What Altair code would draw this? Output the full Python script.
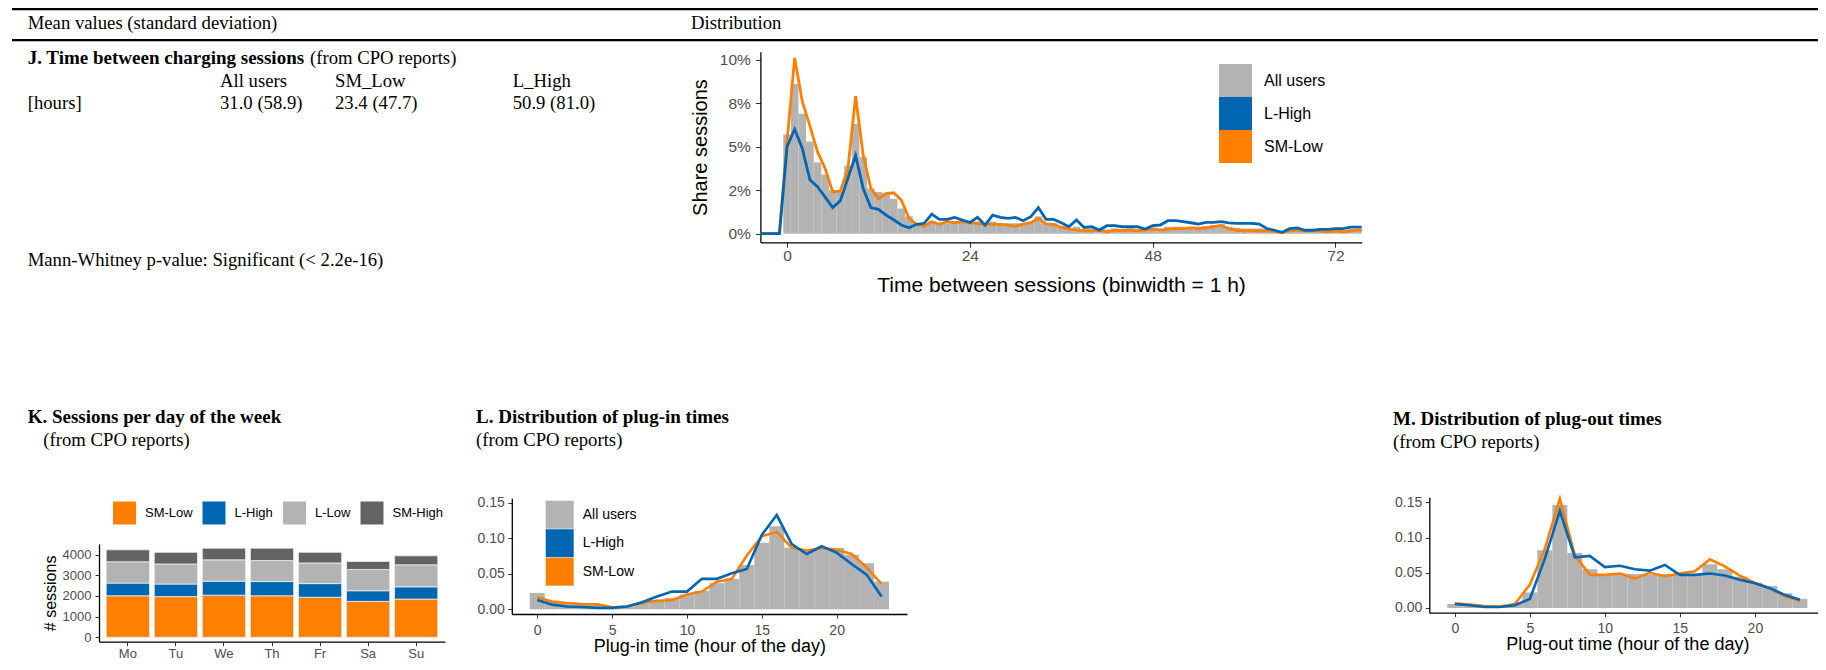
import altair as alt
import pandas as pd

# ---------------- data ----------------
J_HOURS = list(range(-4, 77))
J_SM_LOW = [0, 0, 0, 0,
            5.3, 10.1, 7.6, 6.2, 4.7, 3.75, 2.4, 2.45, 3.75, 7.9, 4.5, 2.6, 2.0, 2.3, 2.35, 1.93,
            0.9, 0.54, 0.44, 0.69, 0.54, 0.69, 0.63, 0.69, 0.63, 0.6, 0.54, 0.54, 0.54, 0.5, 0.44,
            0.55, 0.63, 0.88, 0.56, 0.54, 0.36, 0.27, 0.21, 0.17, 0.17, 0.21, 0.08, 0.21, 0.17, 0.21,
            0.17, 0.21, 0.27, 0.21, 0.25, 0.3, 0.29, 0.34, 0.3, 0.34, 0.4, 0.48, 0.29, 0.2, 0.17,
            0.17, 0.17, 0.17, 0.13, 0.06, 0.17, 0.21, 0.17, 0.17, 0.17, 0.11, 0.17, 0.11, 0.17, 0.21, 0.21]
J_L_HIGH = [0, 0, 0, 0,
            5.0, 6.0, 4.9, 3.1, 2.7, 2.1, 1.5, 1.9, 3.2, 4.5, 2.6, 1.5, 1.4, 1.07, 0.8, 0.5,
            0.34, 0.54, 0.6, 1.13, 0.82, 0.82, 0.94, 0.79, 0.65, 0.94, 0.5, 1.07, 0.94, 0.88, 0.94,
            0.75, 0.98, 1.5, 0.82, 0.82, 0.63, 0.4, 0.79, 0.36, 0.4, 0.21, 0.46, 0.46, 0.4, 0.4,
            0.4, 0.27, 0.46, 0.5, 0.75, 0.75, 0.69, 0.63, 0.55, 0.65, 0.65, 0.69, 0.62, 0.6, 0.6,
            0.6, 0.55, 0.3, 0.2, 0.08, 0.29, 0.34, 0.2, 0.2, 0.25, 0.25, 0.29, 0.29, 0.38, 0.38, 0.38]
J_BAR_HOURS = list(range(0, 76))
J_ALL = [5.7, 8.6, 6.9, 5.3, 4.1, 3.4, 2.5, 2.4, 3.9, 6.3, 4.4, 2.6, 2.4, 2.35, 2.0, 1.45,
         1.0, 0.6, 0.5, 0.7, 0.6, 0.6, 0.7, 0.7, 0.6, 0.7, 0.5, 0.7, 0.6, 0.6, 0.6, 0.6, 0.7, 1.0,
         0.6, 0.6, 0.45, 0.3, 0.4, 0.25, 0.25, 0.2, 0.25, 0.3, 0.25, 0.3, 0.25, 0.25, 0.35, 0.3,
         0.4, 0.4, 0.4, 0.4, 0.4, 0.45, 0.5, 0.55, 0.4, 0.35, 0.3, 0.3, 0.3, 0.25, 0.15, 0.1,
         0.2, 0.25, 0.2, 0.2, 0.2, 0.2, 0.2, 0.2, 0.25, 0.25]
J_X_TICKS = [0, 24, 48, 72]
J_Y_TICKS = [0, 0.025, 0.05, 0.075, 0.10]
J_Y_LABELS = ["0%", "2%", "5%", "8%", "10%"]

DAYS = ["Mo", "Tu", "We", "Th", "Fr", "Sa", "Su"]
K_GROUPS = ["SM-Low", "L-High", "L-Low", "SM-High"]
K_SM_LOW = [2010, 1970, 2040, 2010, 1940, 1740, 1850]
K_L_HIGH = [615, 610, 680, 690, 660, 515, 595]
K_L_LOW = [1030, 970, 1030, 1015, 1000, 1030, 1065]
K_SM_HIGH = [580, 565, 565, 600, 515, 390, 435]
K_Y_TICKS = [0, 1000, 2000, 3000, 4000]

HOURS = list(range(24))
L_ALL = [0.023, 0.012, 0.009, 0.0075, 0.0075, 0.004, 0.004, 0.0085, 0.013, 0.016, 0.021, 0.026,
         0.037, 0.043, 0.0625, 0.094, 0.117, 0.087, 0.083, 0.0865, 0.0865, 0.077, 0.065, 0.039]
L_L_HIGH = [0.013, 0.0066, 0.004, 0.0033, 0.002, 0.002, 0.004, 0.0099, 0.018, 0.025, 0.025, 0.043,
            0.043, 0.051, 0.057, 0.105, 0.133, 0.092, 0.078, 0.089, 0.080, 0.064, 0.049, 0.018]
L_SM_LOW = [0.017, 0.011, 0.009, 0.0075, 0.007, 0.003, 0.004, 0.009, 0.012, 0.0127, 0.021, 0.025,
            0.039, 0.043, 0.076, 0.103, 0.109, 0.087, 0.083, 0.0865, 0.084, 0.078, 0.059, 0.036]
M_ALL = [0.0057, 0.0047, 0.003, 0.002, 0.0057, 0.022, 0.082, 0.146, 0.078, 0.055, 0.048, 0.049,
         0.048, 0.047, 0.048, 0.047, 0.048, 0.062, 0.055, 0.0445, 0.036, 0.031, 0.021, 0.013]
M_L_HIGH = [0.0057, 0.0038, 0.0014, 0.0014, 0.0038, 0.0128, 0.07, 0.138, 0.072, 0.074, 0.058, 0.060,
            0.055, 0.053, 0.061, 0.047, 0.047, 0.049, 0.046, 0.040, 0.035, 0.028, 0.0185, 0.0118]
M_SM_LOW = [0.0066, 0.0047, 0.0028, 0.0019, 0.0057, 0.033, 0.084, 0.155, 0.075, 0.047, 0.047, 0.049,
            0.042, 0.050, 0.045, 0.049, 0.052, 0.069, 0.059, 0.046, 0.0355, 0.028, 0.0166, 0.0104]
LM_X_TICKS = [0, 5, 10, 15, 20]
LM_Y_TICKS = [0, 0.05, 0.10, 0.15]

# ---------------- style ----------------
W, H = 1810, 654
M0 = 8
SERIF = "Liberation Serif"
SANS = "Liberation Sans"
BLUE = "#0066B2"
ORANGE = "#FF8000"
GREY = "#B3B3B3"
DARK = "#636363"
LAB = "#4D4D4D"
DY = 6  # bottom row lifted slightly so its lowest texts stay inside the page


def cx(px):
    return px - M0


def cy(py):
    return py - M0


def text(s, x, y, size=18.7, weight="normal", font=SERIF, color="black", align="left"):
    return alt.Chart(pd.DataFrame({"t": [s]})).mark_text(
        align=align, baseline="middle", font=font, fontSize=size, fontWeight=weight, color=color
    ).encode(x=alt.value(cx(x)), y=alt.value(cy(y)), text="t:N")


def hrule(y, x1, x2, w):
    return alt.Chart(pd.DataFrame({"k": [0]})).mark_rule(color="black", strokeWidth=w).encode(
        x=alt.value(cx(x1)), x2=alt.value(cx(x2)), y=alt.value(cy(y)))


def xaxis(axis_y, values, title, title_x, title_y, lsize, tsize, pad, tick=4.5):
    kw = dict(orient="bottom", offset=cy(axis_y) - H, values=values, grid=False,
              domainColor="black", domainWidth=1.3, tickColor="#333333", tickSize=tick,
              labelFont=SANS, labelFontSize=lsize, labelColor=LAB, labelPadding=pad,
              labelFlush=False, labelOverlap=False, format="d")
    if title:
        kw.update(title=title, titleFont=SANS, titleFontSize=tsize, titleFontWeight="normal",
                  titleColor="black", titleX=cx(title_x), titleY=title_y, titleAlign="center",
                  titleBaseline="middle", titleAngle=0)
    else:
        kw.update(title=None)
    return alt.Axis(**kw)


def yaxis(axis_x, values, title=None, title_x=0, title_y=0, lsize=14, tsize=20, pad=4,
          tick=4, fmt=None, label_expr=None):
    kw = dict(orient="left", offset=-cx(axis_x), values=values, grid=False,
              domainColor="black", domainWidth=1.3, tickColor="#333333", tickSize=tick,
              labelFont=SANS, labelFontSize=lsize, labelColor=LAB, labelPadding=pad,
              labelFlush=False, labelOverlap=False)
    if fmt:
        kw["format"] = fmt
    if label_expr:
        kw["labelExpr"] = label_expr
    if title:
        kw.update(title=title, titleFont=SANS, titleFontSize=tsize, titleFontWeight="normal",
                  titleColor="black", titleX=title_x, titleY=cy(title_y), titleAlign="center",
                  titleBaseline="middle", titleAngle=270)
    else:
        kw.update(title=None)
    return alt.Axis(**kw)


def long(hours, series):
    rows = []
    for name, vals in series:
        for h, v in zip(hours, vals):
            rows.append({"hour": h, "share": v, "grp": name})
    return pd.DataFrame(rows)


# ---------------- panel J ----------------
j_expr = " : ".join(
    f"abs(datum.value - {v}) < 1e-6 ? '{lab}'" for v, lab in zip(J_Y_TICKS, J_Y_LABELS)) + " : ''"
xJ = alt.Scale(domain=[-3.5, 75.45], range=[cx(760.4), cx(1361.7)], nice=False, zero=False, clamp=True)
yJ = alt.Scale(domain=[-0.00493, 0.10459], range=[cy(242.3), cy(51.7)], nice=False, zero=False)
axJx = xaxis(242.3, J_X_TICKS, "Time between sessions (binwidth = 1 h)", 1061, 43.5, 15.5, 21, 1, tick=5)
axJy = yaxis(760.4, J_Y_TICKS, "Share sessions", -60.4, 147, lsize=15.5, tsize=20, pad=5,
             tick=5, label_expr=j_expr)

dfJbar = pd.DataFrame({"hour": J_BAR_HOURS, "share": [v / 100 for v in J_ALL], "grp": "All users"})
dfJline = long(J_HOURS, [("SM-Low", [v / 100 for v in J_SM_LOW]), ("L-High", [v / 100 for v in J_L_HIGH])])

legJ = alt.Legend(orient="none", legendX=cx(1219), legendY=cy(64), title=None, symbolType="square",
                  symbolSize=33 * 33, symbolStrokeWidth=0, labelFont=SANS, labelFontSize=16,
                  labelColor="black", labelOffset=12, rowPadding=0, padding=0)

barsJ = alt.Chart(dfJbar).mark_rect().transform_calculate(
    x0="datum.hour - 0.5", x1="datum.hour + 0.5").encode(
    x=alt.X("x0:Q", scale=xJ, axis=axJx), x2="x1:Q",
    y=alt.Y("share:Q", scale=yJ, axis=axJy), y2=alt.datum(0),
    fill=alt.Fill("grp:N", scale=alt.Scale(domain=["All users", "L-High", "SM-Low"],
                                           range=[GREY, BLUE, ORANGE]), legend=legJ))
linesJ = alt.Chart(dfJline).mark_line(strokeWidth=2.8).encode(
    x=alt.X("hour:Q", scale=xJ, axis=axJx),
    y=alt.Y("share:Q", scale=yJ, axis=axJy),
    stroke=alt.Stroke("grp:N", scale=alt.Scale(domain=["SM-Low", "L-High"], range=[ORANGE, BLUE]),
                      legend=None),
    order="hour:Q")
panelJ = alt.layer(barsJ, linesJ)

# ---------------- panel K ----------------
rowsK = []
for gi, (g, vals) in enumerate(zip(K_GROUPS, [K_SM_LOW, K_L_HIGH, K_L_LOW, K_SM_HIGH])):
    for d, v in zip(DAYS, vals):
        rowsK.append({"day": d, "grp": g, "n": v, "ord": gi})
dfK = pd.DataFrame(rowsK)
K_AX = 647.7 - DY
xK = alt.Scale(domain=DAYS, range=[cx(99), cx(445)], paddingInner=0.1, paddingOuter=0.15)
yK = alt.Scale(domain=[-213, 4518], range=[cy(K_AX), cy(550 - DY)], nice=False, zero=False)
legK = alt.Legend(orient="none", direction="horizontal", legendX=cx(113), legendY=cy(501.5),
                  title=None, symbolType="square", symbolSize=23 * 23, symbolStrokeWidth=0,
                  labelFont=SANS, labelFontSize=13, labelColor="black", labelOffset=9,
                  columnPadding=9.5, padding=0)
panelK = alt.Chart(dfK).mark_bar(stroke="#eeeeee", strokeWidth=0.8).encode(
    x=alt.X("day:N", scale=xK, sort=DAYS,
            axis=alt.Axis(orient="bottom", offset=cy(K_AX) - H, title=None, grid=False,
                          domainColor="black", domainWidth=1.3, tickColor="#333333", tickSize=4,
                          labelFont=SANS, labelFontSize=13, labelColor=LAB, labelPadding=2,
                          labelAngle=0)),
    y=alt.Y("n:Q", stack="zero", scale=yK,
            axis=yaxis(99, K_Y_TICKS, "# sessions", -49, 598.9 - DY, lsize=13, tsize=16, pad=4, tick=4,
                       fmt="d")),
    fill=alt.Fill("grp:N", scale=alt.Scale(domain=K_GROUPS, range=[ORANGE, BLUE, GREY, DARK]),
                  legend=legK),
    order=alt.Order("ord:Q"))


# ---------------- panels L and M ----------------
def hist_panel(all_vals, high_vals, low_vals, x0, x1, ybot, ytop, ydom, xtitle, title_y, legend):
    xs = alt.Scale(domain=[-1.7, 24.7], range=[cx(x0), cx(x1)], nice=False, zero=False)
    ys = alt.Scale(domain=ydom, range=[cy(ybot), cy(ytop)], nice=False, zero=False)
    ax = xaxis(ybot, LM_X_TICKS, xtitle, (x0 + x1) / 2, title_y, 14, 18, 5, tick=4)
    ay = yaxis(x0, LM_Y_TICKS, lsize=14, pad=3.5, tick=4, fmt=".2f")
    dfb = pd.DataFrame({"hour": HOURS, "share": all_vals, "grp": "All users"})
    dfl = long(HOURS, [("SM-Low", low_vals), ("L-High", high_vals)])
    bars = alt.Chart(dfb).mark_rect().transform_calculate(
        x0="datum.hour - 0.5", x1="datum.hour + 0.5").encode(
        x=alt.X("x0:Q", scale=xs, axis=ax), x2="x1:Q",
        y=alt.Y("share:Q", scale=ys, axis=ay), y2=alt.datum(0),
        fill=alt.Fill("grp:N", scale=alt.Scale(domain=["All users", "L-High", "SM-Low"],
                                               range=[GREY, BLUE, ORANGE]), legend=legend))
    lines = alt.Chart(dfl).mark_line(strokeWidth=2.6).encode(
        x=alt.X("hour:Q", scale=xs, axis=ax),
        y=alt.Y("share:Q", scale=ys, axis=ay),
        stroke=alt.Stroke("grp:N", scale=alt.Scale(domain=["SM-Low", "L-High"], range=[ORANGE, BLUE]),
                          legend=None),
        order="hour:Q")
    return alt.layer(bars, lines)


legL = alt.Legend(orient="none", legendX=cx(545.7), legendY=cy(500.7), title=None, symbolType="square",
                  symbolSize=28 * 28, symbolStrokeWidth=0, labelFont=SANS, labelFontSize=14,
                  labelColor="black", labelOffset=9, rowPadding=0.5, padding=0)
panelL = hist_panel(L_ALL, L_L_HIGH, L_SM_LOW, 511.8, 907, 620 - DY, 504.3 - DY, [-0.0066, 0.1566],
                    "Plug-in time (hour of the day)", 32, legL)
panelM = hist_panel(M_ALL, M_L_HIGH, M_SM_LOW, 1429.3, 1825.4, 618.7 - DY, 503.3 - DY, [-0.0067, 0.1571],
                    "Plug-out time (hour of the day)", 32, None)

# ---------------- text panel ----------------
texts = [
    hrule(9, 12, 1826, 2.3),
    hrule(40.2, 12, 1826, 2.3),
    text("Mean values (standard deviation)", 27.7, 22.5),
    text("Distribution", 691, 22.5),
    text("J. Time between charging sessions", 27.7, 58.3, size=19, weight="bold"),
    text("(from CPO reports)", 310, 58.3),
    text("All users", 220, 80.7),
    text("SM_Low", 335, 80.7),
    text("L_High", 512.7, 80.7),
    text("[hours]", 27.7, 103.3),
    text("31.0 (58.9)", 220, 103.3),
    text("23.4 (47.7)", 335, 103.3),
    text("50.9 (81.0)", 512.7, 103.3),
    text("Mann-Whitney p-value: Significant (< 2.2e-16)", 27.7, 260),
    text("K. Sessions per day of the week", 27.7, 416.5, size=19, weight="bold"),
    text("(from CPO reports)", 43.3, 440),
    text("L. Distribution of plug-in times", 476, 416.5, size=19, weight="bold"),
    text("(from CPO reports)", 476, 440),
    text("M. Distribution of plug-out times", 1393, 418.8, size=19, weight="bold"),
    text("(from CPO reports)", 1393, 441.7),
]

chart = alt.layer(panelJ, panelK, panelL, panelM, *texts).resolve_scale(
    x="independent", y="independent", fill="independent", stroke="independent"
).properties(
    width=W, height=H, padding=0, autosize=alt.AutoSizeParams(type="none"), background="white"
).configure_view(stroke=None)

chart.save("out.html", embed_options={"renderer": "svg", "actions": False})
